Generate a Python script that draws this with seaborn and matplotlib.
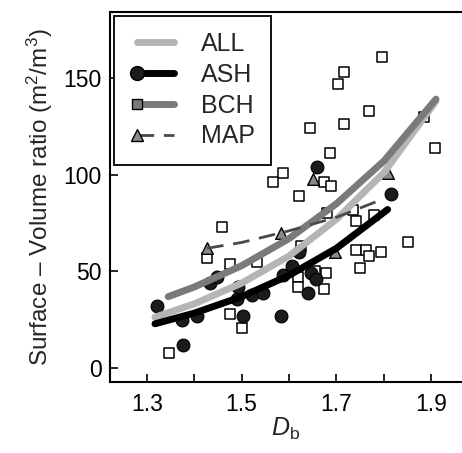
import numpy as np
import pandas as pd
import matplotlib
matplotlib.use("Agg")
import matplotlib.pyplot as plt
import seaborn as sns
from matplotlib.lines import Line2D
from matplotlib.legend_handler import HandlerLine2D

# puntos BCH (cuadrados)
bch_x = [1.488, 1.796, 1.717, 1.703, 1.768, 1.717, 1.645, 1.686, 1.908, 1.885,
         1.588, 1.567, 1.673, 1.688, 1.622, 1.459, 1.736, 1.741, 1.779, 1.851,
         1.741, 1.762, 1.768, 1.794, 1.749, 1.427, 1.476, 1.533, 1.626, 1.618,
         1.618, 1.654, 1.677, 1.673, 1.476, 1.501, 1.347, 1.680]
bch_y = [177, 161, 153, 147, 133, 126, 124, 111, 114, 130,
         101, 96, 96, 94, 89, 73, 82, 76, 79, 65,
         61, 61, 58, 60, 52, 57, 54, 55, 63, 47,
         42, 50, 49, 41, 28, 21, 8, 80]

# puntos ASH (circulos)
ash_x = [1.660, 1.815, 1.321, 1.374, 1.406, 1.376, 1.433, 1.448, 1.491, 1.503,
         1.522, 1.546, 1.582, 1.588, 1.620, 1.639, 1.647, 1.656, 1.493, 1.607]
ash_y = [104, 90, 32, 25, 27, 12, 44, 47, 36, 27,
         38, 39, 27, 48, 60, 39, 49, 46, 42, 53]

# puntos MAP (triangulos)
map_x = [1.650, 1.808, 1.427, 1.698, 1.582]
map_y = [98, 101, 62, 60, 70]

# curvas ajustadas
all_fx = [1.317, 1.40, 1.50, 1.60, 1.70, 1.80, 1.91]
all_fy = [26.4, 33.3, 44, 58, 77, 101, 138]
ash_fx = [1.317, 1.40, 1.50, 1.60, 1.70, 1.808]
ash_fy = [23, 28.5, 37, 48, 62, 82]
bch_fx = [1.345, 1.40, 1.50, 1.60, 1.70, 1.80, 1.91]
bch_fy = [37, 42, 53, 67, 85, 107, 139]
map_fx = [1.427, 1.50, 1.60, 1.70, 1.794]
map_fy = [62, 65, 71, 78, 87]


# marcador solo en el extremo izquierdo de la leyenda
class HandlerIzq(HandlerLine2D):
    def create_artists(self, legend, orig_handle, xdescent, ydescent,
                       width, height, fontsize, trans):
        arts = super().create_artists(legend, orig_handle, xdescent, ydescent,
                                      width, height, fontsize, trans)
        for a in arts:
            a.set_markevery([0])
        return arts


sns.set_style("ticks")
plt.rcParams['font.family'] = ['Liberation Sans', 'DejaVu Sans']
plt.rcParams['mathtext.fontset'] = 'custom'
plt.rcParams['mathtext.rm'] = 'Liberation Sans'
plt.rcParams['mathtext.it'] = 'Liberation Sans:italic'

fig = plt.figure(figsize=(4.62, 4.53), dpi=100)
ax = fig.add_axes([0.238, 0.157, 0.762, 0.8165])

sns.scatterplot(x=bch_x, y=bch_y, ax=ax, marker='s', s=48, color='white',
                edgecolor='black', linewidth=1.1, zorder=2)
sns.scatterplot(x=ash_x, y=ash_y, ax=ax, marker='o', s=85, color='#1c1c1c',
                edgecolor='black', linewidth=0.8, zorder=2)
sns.scatterplot(x=map_x, y=map_y, ax=ax, marker='^', s=70, color='#8a8a8a',
                edgecolor='black', linewidth=1.0, zorder=2)

sns.lineplot(x=all_fx, y=all_fy, ax=ax, color='#b5b5b5', linewidth=5,
             sort=False, estimator=None, solid_capstyle='round', zorder=3)
sns.lineplot(x=ash_fx, y=ash_fy, ax=ax, color='black', linewidth=5,
             sort=False, estimator=None, solid_capstyle='round', zorder=3)
sns.lineplot(x=bch_fx, y=bch_fy, ax=ax, color='#7a7a7a', linewidth=5,
             sort=False, estimator=None, solid_capstyle='round', zorder=3)
sns.lineplot(x=map_fx, y=map_fy, ax=ax, color='#4a4a4a', linewidth=2,
             sort=False, estimator=None, zorder=4, dashes=False)
ax.lines[-1].set_dashes([6, 3.5])

ax.set_xlim(1.222, 1.965)
ax.set_ylim(-7, 184)
ax.set_xticks([1.3, 1.4, 1.5, 1.6, 1.7, 1.8, 1.9])
ax.set_xticklabels(['1.3', '', '1.5', '', '1.7', '', '1.9'])
ax.set_yticks([0, 50, 100, 150])
ax.tick_params(direction='in', length=6, width=1.2, labelsize=16.5, colors='black')
ax.tick_params(axis='x', pad=8)
ax.tick_params(axis='y', pad=6)
for s in ['left', 'bottom', 'top']:
    ax.spines[s].set_linewidth(1.5)
    ax.spines[s].set_color('black')
ax.spines['right'].set_visible(False)

ax.set_xlabel(r'$D_\mathrm{b}$', fontsize=18, labelpad=0)
ax.set_ylabel('Surface – Volume ratio (m$^2$/m$^3$)', fontsize=17.5, labelpad=6)

handles = [
    Line2D([0], [0], color='#b5b5b5', lw=5, solid_capstyle='round'),
    Line2D([0], [0], color='black', lw=5, marker='o', markersize=10,
           markerfacecolor='#1c1c1c', markeredgecolor='black',
           solid_capstyle='round'),
    Line2D([0], [0], color='#7a7a7a', lw=5, marker='s', markersize=7,
           markerfacecolor='#7a7a7a', markeredgecolor='black',
           solid_capstyle='round'),
    Line2D([0], [0], color='#4a4a4a', lw=2, ls=(0, (6, 3.5)), marker='^', markersize=8,
           markerfacecolor='#8a8a8a', markeredgecolor='black'),
]
leg = ax.legend(handles, ['ALL', 'ASH', 'BCH', 'MAP'], loc='upper left',
                fontsize=18, numpoints=2, frameon=True, fancybox=False,
                edgecolor='black', framealpha=1, borderaxespad=0.15,
                handlelength=2.05, handletextpad=0.8, labelspacing=0.27,
                borderpad=0.65, handler_map={Line2D: HandlerIzq()})
leg.get_frame().set_linewidth(1.3)

plt.savefig('out.png', dpi=100)
